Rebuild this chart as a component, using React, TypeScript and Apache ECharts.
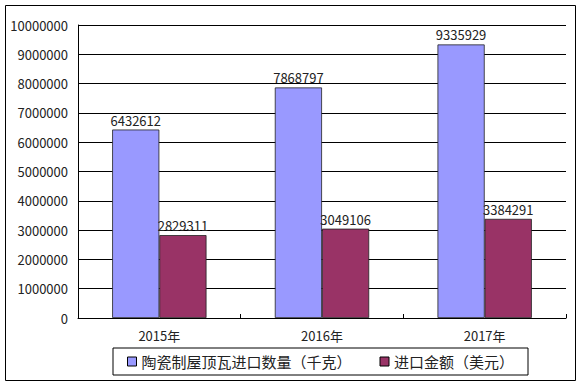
import React, { useEffect, useRef } from "react";
import * as echarts from "echarts";

const categories = ["2015年", "2016年", "2017年"];
const seriesNames = ["陶瓷制屋顶瓦进口数量（千克）", "进口金额（美元）"];
const quantityValues = [6432612, 7868797, 9335929];
const amountValues = [2829311, 3049106, 3384291];
const colors = ["#9999FF", "#993366"];

const FONT = "'Noto Sans CJK SC', 'DejaVu Sans', sans-serif";

export default function App() {
  const ref = useRef<HTMLDivElement>(null);
  useEffect(() => {
    if (!ref.current) return;
    const chart = echarts.init(ref.current, null, { renderer: "svg" });
    const mkSeries = (name: string, data: number[], color: string) => ({
      name,
      type: "bar",
      data,
      barGap: "0%",
      barCategoryGap: "42%",
      itemStyle: { color, borderColor: "#222", borderWidth: 0.8 },
      label: {
        show: true,
        position: "top",
        distance: 3,
        color: "#222",
        fontSize: 13,
        fontFamily: FONT,
      },
    });
    chart.setOption({
      animation: false,
      backgroundColor: "#fff",
      textStyle: { fontFamily: FONT },
      graphic: [
        {
          type: "rect",
          shape: { x: 5.5, y: 5.5, width: 570, height: 375 },
          style: { fill: "none", stroke: "#000", lineWidth: 1 },
          silent: true,
        },
      ],
      grid: { left: 78, right: 16, top: 25, bottom: 69, containLabel: false },
      legend: {
        left: 113,
        top: 348,
        padding: [6, 14, 6, 14],
        itemGap: 28,
        itemWidth: 9,
        itemHeight: 9,
        icon: "rect",
        borderColor: "#000",
        borderWidth: 1,
        itemStyle: { borderColor: "#000", borderWidth: 1 },
        textStyle: { fontSize: 15, color: "#222", fontFamily: FONT },
        data: seriesNames,
      },
      xAxis: {
        type: "category",
        data: categories,
        axisLine: { lineStyle: { color: "#000", width: 1 } },
        axisTick: { show: true, inside: true, length: 4, lineStyle: { color: "#000" } },
        axisLabel: { color: "#222", fontSize: 13, margin: 11, fontFamily: FONT },
      },
      yAxis: {
        type: "value",
        min: 0,
        max: 10000000,
        interval: 1000000,
        axisLine: { show: true, lineStyle: { color: "#000", width: 1 } },
        axisTick: { show: false },
        axisLabel: {
          color: "#222",
          fontSize: 13,
          margin: 10,
          fontFamily: FONT,
          formatter: (v: number) => String(v),
        },
        splitLine: { show: true, lineStyle: { color: "#000", width: 1 } },
      },
      series: [
        mkSeries(seriesNames[0], quantityValues, colors[0]),
        mkSeries(seriesNames[1], amountValues, colors[1]),
      ],
    });
    return () => chart.dispose();
  }, []);
  return (
    <div
      ref={ref}
      style={{ position: "fixed", left: 0, top: 0, width: 582, height: 387 }}
    />
  );
}
